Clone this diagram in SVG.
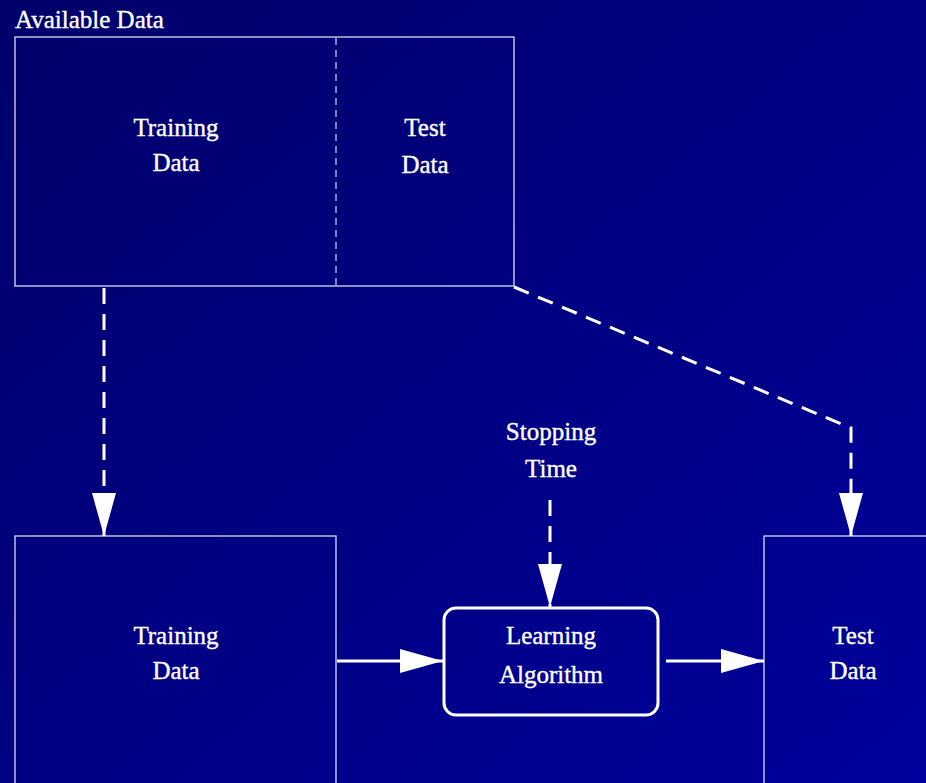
<svg xmlns="http://www.w3.org/2000/svg" width="926" height="783" viewBox="0 0 926 783">
<defs>
<linearGradient id="bg" x1="0" y1="0" x2="1" y2="1">
<stop offset="0" stop-color="#00006a"/>
<stop offset="1" stop-color="#00009c"/>
</linearGradient>
<marker id="ah" markerUnits="userSpaceOnUse" markerWidth="44" markerHeight="26" refX="43" refY="12" orient="auto" viewBox="0 0 44 26">
<polygon points="0,0 43,12 0,24" fill="#ffffff"/>
</marker>
<style>
text{font-family:"Liberation Serif","Times New Roman",serif;font-size:25px;fill:#ffffff;stroke:#ffffff;stroke-width:0.35}
.c{text-anchor:middle}
.box{fill:none;stroke:#dcdcf0;stroke-width:1.3}
.div{fill:none;stroke:#c8c8e4;stroke-width:1.3;stroke-dasharray:7,5}
.conn{fill:none;stroke:#ffffff;stroke-width:3}
.dash{stroke-dasharray:16,10}
</style>
</defs>
<rect width="926" height="783" fill="url(#bg)"/>
<g id="available">
<text x="15" y="28">Available Data</text>
<rect class="box" x="15" y="37" width="499" height="249"/>
<line class="div" x1="336" y1="38" x2="336" y2="286"/>
<text class="c" x="176" y="136">Training</text>
<text class="c" x="176" y="171">Data</text>
<text class="c" x="425" y="136">Test</text>
<text class="c" x="425" y="173">Data</text>
</g>
<g id="training">
<rect class="box" x="15" y="536" width="321" height="260"/>
<text class="c" x="176" y="644">Training</text>
<text class="c" x="176" y="679">Data</text>
</g>
<g id="learning">
<rect x="444" y="608" width="214" height="107" rx="12" fill="none" stroke="#ffffff" stroke-width="3"/>
<text class="c" x="551" y="644">Learning</text>
<text class="c" x="551" y="683">Algorithm</text>
</g>
<g id="stopping">
<text class="c" x="551" y="440">Stopping</text>
<text class="c" x="551" y="477">Time</text>
</g>
<g id="test">
<rect class="box" x="764" y="536" width="180" height="260"/>
<text class="c" x="853" y="644">Test</text>
<text class="c" x="853" y="679">Data</text>
</g>
<g id="connectors">
<path class="conn dash" d="M104,288 V536" marker-end="url(#ah)"/>
<path class="conn dash" d="M514,287 L851,428 V536" marker-end="url(#ah)"/>
<path class="conn dash" d="M550,500 V607" marker-end="url(#ah)"/>
<path class="conn" d="M337,661 H443" marker-end="url(#ah)"/>
<path class="conn" d="M666,661 H764" marker-end="url(#ah)"/>
</g>
</svg>
